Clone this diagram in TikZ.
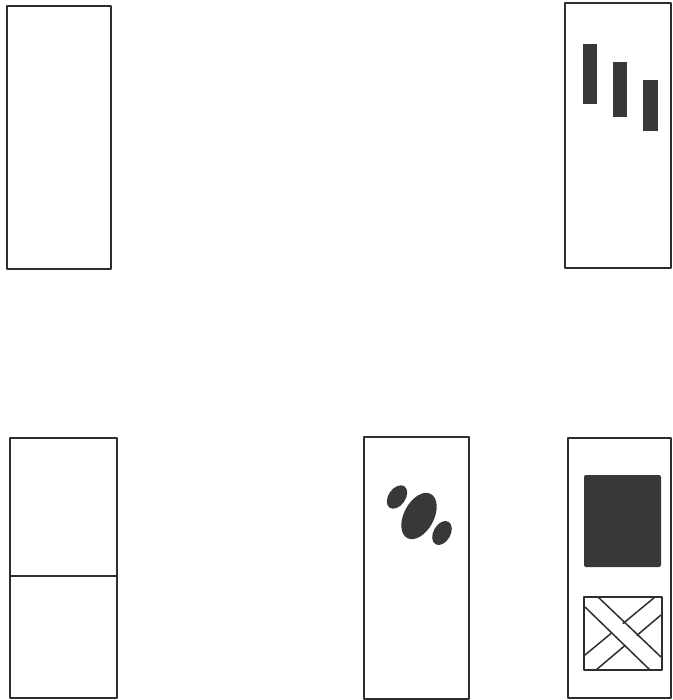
\documentclass[tikz,border=0pt]{standalone}
\begin{document}
\begin{tikzpicture}[x=1pt,y=-1pt,line join=round]
\definecolor{inkline}{HTML}{2E2E2E}
\definecolor{inkfill}{HTML}{383838}
\tikzset{panel/.style={draw=inkline,line width=2pt},
  blot/.style={fill=inkfill}}
\useasboundingbox (0,0) rectangle (672,700);
% top row
\draw[panel] (7,6) rectangle (111,269);
\draw[panel] (565,3) rectangle (671,268);
\fill[blot] (583,44) rectangle (597,104);
\fill[blot] (613,62) rectangle (627,117);
\fill[blot] (643,80) rectangle (658,131);
% bottom row
\draw[panel] (10,438) rectangle (117,698);
\draw[panel] (10,576) -- (117,576);
\draw[panel] (364,437) rectangle (469,699);
\fill[blot,shift={(397,497)},rotate=-35] (0,0) ellipse [x radius=8.5,y radius=13];
\fill[blot,shift={(419,516)},rotate=-28] (0,0) ellipse [x radius=15,y radius=25];
\fill[blot,shift={(442,533)},rotate=-30] (0,0) ellipse [x radius=8.5,y radius=13];
\draw[panel] (568,438) rectangle (671,698);
\fill[blot,rounded corners=2pt] (584,475) rectangle (661,567);
\draw[panel,line width=1.5pt] (585,655) -- (655,597);
\draw[panel,line width=1.5pt] (596,670) -- (661,615);
\fill[white] (585,602) -- (592,597) -- (661,657) -- (661,668) -- (650,670) -- (585,608) -- cycle;
\draw[panel,line width=1.5pt] (598,597) -- (661,657);
\draw[panel,line width=1.5pt] (585,607) -- (650,670);
\draw[panel] (584,597) rectangle (662,670);
\end{tikzpicture}
\end{document}
